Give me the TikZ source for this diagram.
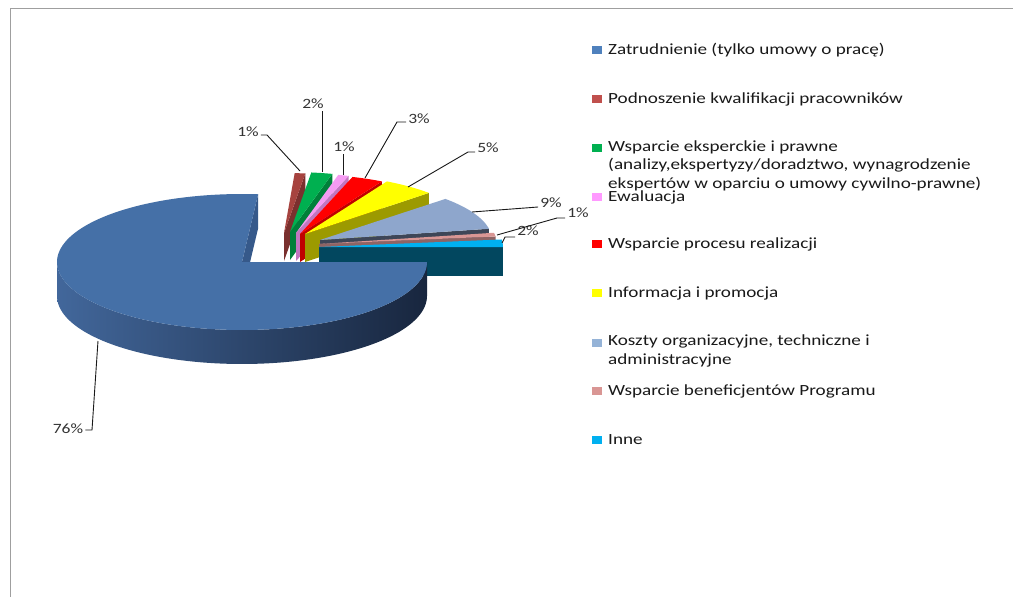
\documentclass[tikz,border=0pt]{standalone}
\usepackage{fontspec}
\setmainfont{Carlito}[FakeStretch=1.235]
\definecolor{blueTop}{HTML}{4570A7}
\definecolor{blueSide}{HTML}{36598A}
\definecolor{rimL}{HTML}{42679B}
\definecolor{rimM}{HTML}{2D4A73}
\definecolor{rimR}{HTML}{18263E}
\definecolor{brownT}{HTML}{A6433F}
\definecolor{brownS}{HTML}{7A302E}
\definecolor{greenT}{HTML}{00B050}
\definecolor{greenS}{HTML}{00803A}
\definecolor{pinkT}{HTML}{F59BF2}
\definecolor{pinkS}{HTML}{C276C0}
\definecolor{redT}{HTML}{FF0000}
\definecolor{redS}{HTML}{C00000}
\definecolor{yelT}{HTML}{FFFF00}
\definecolor{yelS}{HTML}{9C9A00}
\definecolor{lavT}{HTML}{8EA6CC}
\definecolor{lavS}{HTML}{3E4657}
\definecolor{salT}{HTML}{D99694}
\definecolor{salS}{HTML}{8E6464}
\definecolor{cyaT}{HTML}{00B0F0}
\definecolor{cyaS}{HTML}{02475F}
\definecolor{lg1}{HTML}{4F81BD}
\definecolor{lg2}{HTML}{C0504D}
\definecolor{lg3}{HTML}{00B050}
\definecolor{lg4}{HTML}{FF99FF}
\definecolor{lg5}{HTML}{FF0000}
\definecolor{lg6}{HTML}{FFFF00}
\definecolor{lg7}{HTML}{95B3D7}
\definecolor{lg8}{HTML}{D99694}
\definecolor{lg9}{HTML}{00B0F0}
% exploded slice: #1 apex x, #2 apex y, #3 upper angle, #4 lower angle, #5 rx, #6 ry, #7 top colour, #8 side colour, #9 depth
\newcommand\exslice[9]{%
  \fill[#8] (#1,#2) -- ({#1+#5*cos(#4)},{#2-#6*sin(#4)}) -- ++(0,#9) -- (#1,#2+#9) -- cycle;
  \fill[#7] (#1,#2) -- plot[domain=#3:#4, samples=30] ({#1+#5*cos(\x)},{#2-#6*sin(\x)}) -- cycle;
}
\begin{document}
\begin{tikzpicture}[x=1pt,y=-1pt,
  lab/.style={font=\fontsize{14.2}{17}\selectfont, text=black!80, inner sep=2pt},
  leg/.style={font=\fontsize{15.5}{18.5}\selectfont, text=black!90, inner sep=0pt, anchor=west, align=left},
  lead/.style={draw=black!90, line width=0.9pt},
  mk/.style={minimum width=10pt, minimum height=8pt, inner sep=0pt}]
\useasboundingbox (0,0) rectangle (1013,597);
\fill[white] (0,0) rectangle (1013,597);
% frame
\draw[gray!75, line width=1.5pt] (10.5,597) -- (10.5,8.5) -- (1013,8.5);

% exploded slices (back to front)
\exslice{284}{233}{86.4}{82.8}{170}{60}{brownT}{brownS}{28}
\exslice{290}{232}{82.8}{75.6}{170}{60}{greenT}{greenS}{28}
\exslice{296}{233}{75.6}{72}{170}{60}{pinkT}{pinkS}{28}
\exslice{300}{234}{72}{61.2}{170}{60}{redT}{redS}{28}
\exslice{305}{234}{61.2}{43.2}{170}{60}{yelT}{yelS}{28}
\exslice{320}{240}{43.2}{10.8}{172}{60}{lavT}{lavS}{28}
\exslice{319}{244}{10.8}{7.2}{178}{60}{salT}{salS}{28}
\exslice{319}{247}{7.2}{0}{184}{60}{cyaT}{cyaS}{29}

% big slice
\fill[blueSide] (242,262) -- ({242+185*cos(85)},{262-68*sin(85)}) -- ++(0,34) -- (242,296) -- cycle;
\shade[left color=rimL, middle color=rimM, right color=rimR]
  plot[domain=180:360, samples=80] ({242+185*cos(\x)},{262-68*sin(\x)})
  -- plot[domain=360:180, samples=80] ({242+185*cos(\x)},{296-68*sin(\x)}) -- cycle;
\fill[blueTop] (242,262) -- plot[domain=85:360, samples=120] ({242+185*cos(\x)},{262-68*sin(\x)}) -- cycle;

% percentage labels
\node[lab] (l76) at (68,428.5) {76\%};
\node[lab] (l1a) at (248,132) {1\%};
\node[lab] (l2a) at (313,104) {2\%};
\node[lab] (l1b) at (344,147) {1\%};
\node[lab] (l3) at (419,119) {3\%};
\node[lab] (l5) at (488,148) {5\%};
\node[lab] (l9) at (551,203) {9\%};
\node[lab] (l1c) at (578,213) {1\%};
\node[lab] (l2b) at (528,231) {2\%};

% leader lines
\coordinate (p76) at (98,341); \coordinate (k76) at (92,430);
\draw[lead] (p76) -- (k76) -- (l76.east |- k76);
\coordinate (p1a) at (300,171); \coordinate (k1a) at (267,135);
\draw[lead] (p1a) -- (k1a) -- (l1a.east |- k1a);
\coordinate (p2a) at (322,172);
\draw[lead] (p2a) -- (p2a |- l2a.south);
\coordinate (p1b) at (343,175);
\draw[lead] (p1b) -- (p1b |- l1b.south);
\coordinate (p3) at (365,178); \coordinate (k3) at (397,122);
\draw[lead] (p3) -- (k3) -- (l3.west |- k3);
\coordinate (p5) at (408,187); \coordinate (k5) at (468,152);
\draw[lead] (p5) -- (k5) -- (l5.west |- k5);
\coordinate (p9) at (472,212); \coordinate (k9) at (538,207);
\draw[lead] (p9) -- (l9.west |- k9);
\coordinate (p1c) at (497,235); \coordinate (k1c) at (557,218);
\draw[lead] (p1c) -- (k1c) -- (l1c.west |- k1c);
\coordinate (p2b) at (502,243); \coordinate (k2b) at (505,237);
\draw[lead] (p2b) -- (k2b) -- (l2b.west |- k2b);

% legend
\node[mk, fill=lg1] (m1) at (597,50) {};
\node[leg] (t1) at (608,50) {Zatrudnienie (tylko umowy o pracę)};
\node[mk, fill=lg2] (m2) at (597,99) {};
\node[leg] (t2) at (608,99) {Podnoszenie kwalifikacji pracowników};
\node[mk, fill=lg3] (m3) at (597,147.5) {};
\node[leg] (t3) at (608,165.5) {Wsparcie eksperckie i prawne\\(analizy,ekspertyzy/doradztwo, wynagrodzenie\\ekspertów w oparciu o umowy cywilno-prawne)};
\node[mk, fill=lg4] (m4) at (597,197) {};
\node[leg] (t4) at (608,197) {Ewaluacja};
\node[mk, fill=lg5] (m5) at (597,244) {};
\node[leg] (t5) at (608,244) {Wsparcie procesu realizacji};
\node[mk, fill=lg6] (m6) at (597,293) {};
\node[leg] (t6) at (608,293) {Informacja i promocja};
\node[mk, fill=lg7] (m7) at (597,342.5) {};
\node[leg] (t7) at (608,351) {Koszty organizacyjne, techniczne i\\administracyjne};
\node[mk, fill=lg8] (m8) at (597,391) {};
\node[leg] (t8) at (608,391) {Wsparcie beneficjentów Programu};
\node[mk, fill=lg9] (m9) at (597,439.5) {};
\node[leg] (t9) at (608,439.5) {Inne};
\end{tikzpicture}
\end{document}
